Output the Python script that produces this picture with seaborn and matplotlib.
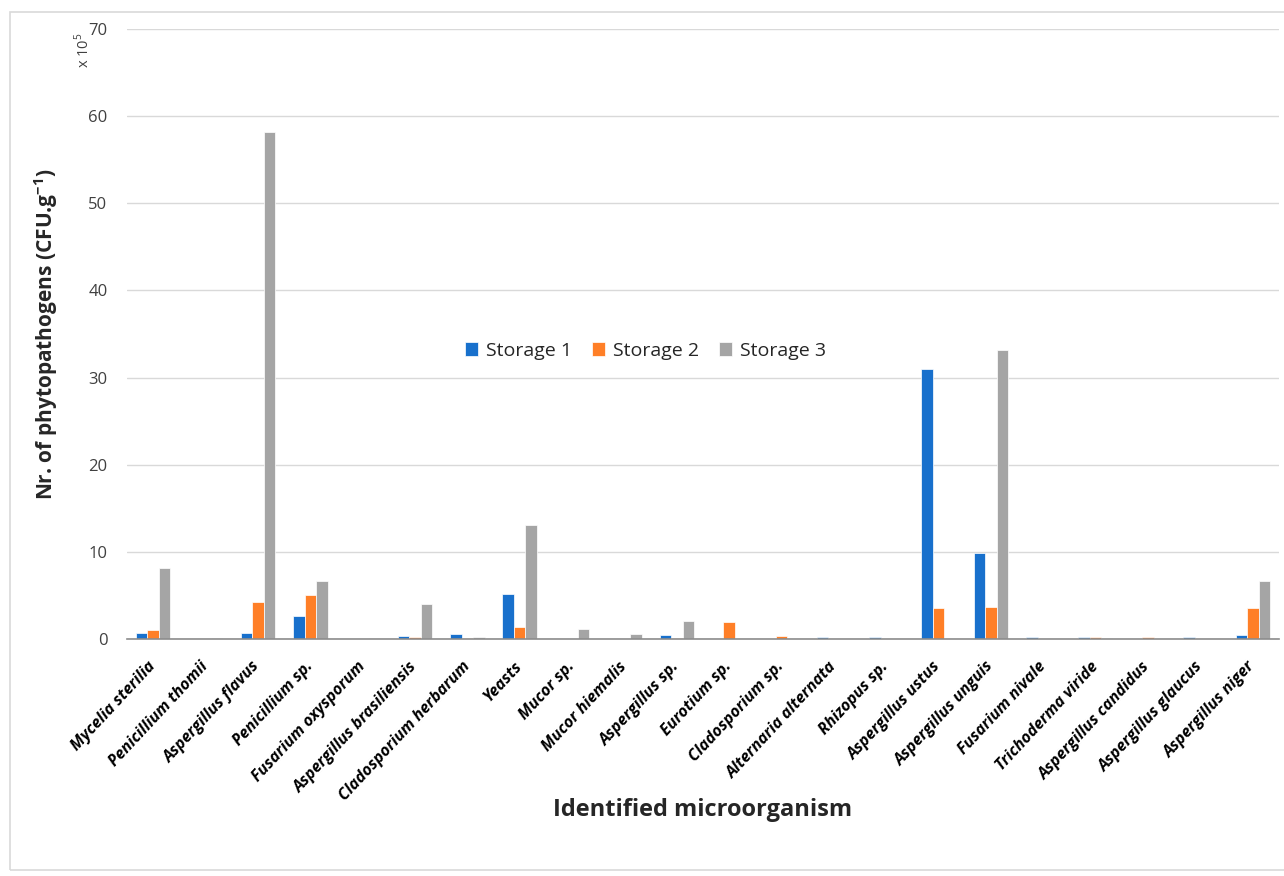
import matplotlib
matplotlib.use("Agg")
import matplotlib.pyplot as plt
import seaborn as sns
import pandas as pd
import numpy as np
from matplotlib.patches import Rectangle

categories = ["Mycelia sterilia", "Penicillium thomii", "Aspergillus flavus", "Penicillium sp.",
              "Fusarium oxysporum", "Aspergillus brasiliensis", "Cladosporium herbarum", "Yeasts",
              "Mucor sp.", "Mucor hiemalis", "Aspergillus sp.", "Eurotium sp.", "Cladosporium sp.",
              "Alternaria alternata", "Rhizopus sp.", "Aspergillus ustus", "Aspergillus unguis",
              "Fusarium nivale", "Trichoderma viride", "Aspergillus candidus", "Aspergillus glaucus",
              "Aspergillus niger"]
storage1 = [0.7, 0.0, 0.7, 2.65, 0.0, 0.3, 0.55, 5.2, 0.0, 0.0, 0.45, 0.0, 0.0,
            0.2, 0.2, 31.0, 9.9, 0.2, 0.2, 0.0, 0.2, 0.45]
storage2 = [1.0, 0.0, 4.2, 5.0, 0.0, 0.2, 0.15, 1.35, 0.0, 0.0, 0.15, 2.0, 0.38,
            0.0, 0.0, 3.6, 3.65, 0.0, 0.2, 0.2, 0.0, 3.6]
storage3 = [8.1, 0.15, 58.2, 6.7, 0.15, 4.0, 0.25, 13.1, 1.1, 0.55, 2.1, 0.0, 0.0,
            0.0, 0.0, 0.0, 33.2, 0.0, 0.15, 0.0, 0.0, 6.65]
series = ["Storage 1", "Storage 2", "Storage 3"]
colors = ["#1870CC", "#FF7F27", "#A5A5A5"]

df = pd.DataFrame({
    "organism": categories * 3,
    "series": [s for s in series for _ in categories],
    "value": storage1 + storage2 + storage3,
})

sns.set_theme(style="white")
plt.rcParams["font.family"] = ["Open Sans", "DejaVu Sans"]
plt.rcParams["mathtext.fontset"] = "custom"
plt.rcParams["mathtext.rm"] = "Open Sans"
plt.rcParams["mathtext.bf"] = "Open Sans:bold"

fig = plt.figure(figsize=(12.84, 8.76), dpi=100)
fig.patches.append(Rectangle((10 / 1284, 6 / 876), 1.2, 858 / 876, transform=fig.transFigure,
                             fill=False, edgecolor="#D9D9D9", linewidth=1.2))
ax = fig.add_axes([127 / 1284, 1 - 639 / 876, 1152 / 1284, 610 / 876])

sns.barplot(data=df, x="organism", y="value", hue="series", order=categories,
            hue_order=series, palette=colors, width=0.66, ax=ax,
            edgecolor="white", linewidth=0.5, saturation=1)

ax.set_ylim(0, 70)
ax.set_yticks(np.arange(0, 71, 10))
ax.yaxis.grid(True, color="#D9D9D9", linewidth=1)
ax.set_axisbelow(True)
for s in ["top", "right", "left"]:
    ax.spines[s].set_visible(False)
ax.spines["bottom"].set_color("#8C8C8C")
ax.spines["bottom"].set_linewidth(1.2)
ax.set_xlim(-0.5, len(categories) - 0.5)

ax.tick_params(axis="y", length=0, pad=14, labelsize=12, labelcolor="#404040")
ax.set_xticks(np.arange(-0.5, len(categories), 1), minor=True)
ax.tick_params(axis="x", which="minor", length=6, width=1.2, color="#8C8C8C", direction="out")
ax.tick_params(axis="x", which="major", length=0, pad=18)
ax.set_xticklabels(categories, rotation=47, ha="right", rotation_mode="anchor",
                   fontsize=11.5, fontweight="bold", fontstyle="italic", color="black")
for lbl in ax.get_xticklabels():
    lbl.set_va("center")

ax.set_xlabel("Identified microorganism", fontsize=17, fontweight="bold")
ax.set_ylabel(r"Nr. of phytopathogens (CFU.g$^{\mathbf{-1}}$)", fontsize=15, fontweight="bold")
ax.yaxis.set_label_coords(-0.058, 0.5)
ax.xaxis.set_label_coords(0.5, -0.26)

fig.text(83 / 1284, 1 - 50 / 876, r"x 10$^{5}$", rotation=90, ha="center", va="center",
         fontsize=10.5, color="#404040")

leg = ax.legend(loc="center", bbox_to_anchor=(0.45, 0.472), ncol=3, frameon=False,
                fontsize=14, handlelength=0.7, handleheight=0.7, columnspacing=1.0,
                handletextpad=0.4)

fig.savefig("out.png", dpi=100)
